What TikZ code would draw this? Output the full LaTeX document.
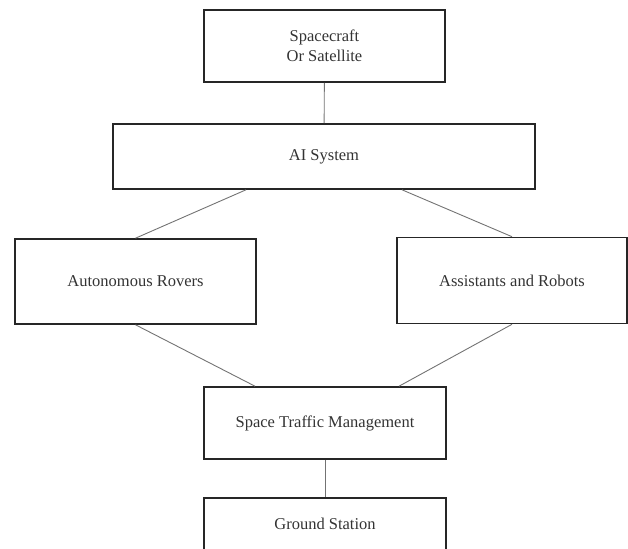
\documentclass[tikz,border=0pt]{standalone}
\usepackage{fontspec}
\setmainfont{Liberation Serif}
\usetikzlibrary{calc}

\begin{document}
\begin{tikzpicture}[x=1pt,y=-1pt,
                    box/.style={rectangle,draw=black!85,line width=1.6pt,inner sep=0pt,
                                text=black!80,align=center,
                                font=\fontsize{16.5}{20}\selectfont},
                    link/.style={draw=black!55,line width=0.9pt}]
  \clip (0,0) rectangle (628,548);
  \node[box,minimum width=241,minimum height=72] (craft) at (324.5,46) {Spacecraft\\Or Satellite};
  \node[box,minimum width=422,minimum height=65] (ai) at (324,156.5) {AI System};
  \node[box,minimum width=241,minimum height=85] (rovers) at (135.5,281.5) {Autonomous Rovers};
  \node[box,minimum width=230,minimum height=86] (robots) at (512,280.5) {Assistants and Robots};
  \node[box,minimum width=242,minimum height=72] (traffic) at (325,423) {Space Traffic Management};
  \node[box,minimum width=242,minimum height=52] (ground) at (325,524) {Ground Station};
  \path[link]
    (craft) edge (ai)
    ($(ai.south)+(-78,0)$) edge (rovers.north)
    ($(ai.south)+(78,0)$) edge (robots.north)
    (rovers.south) edge ($(traffic.north)+(-70,0)$)
    (robots.south) edge ($(traffic.north)+(74,0)$)
    (traffic) edge (ground)
    ;
\end{tikzpicture}
\end{document}
